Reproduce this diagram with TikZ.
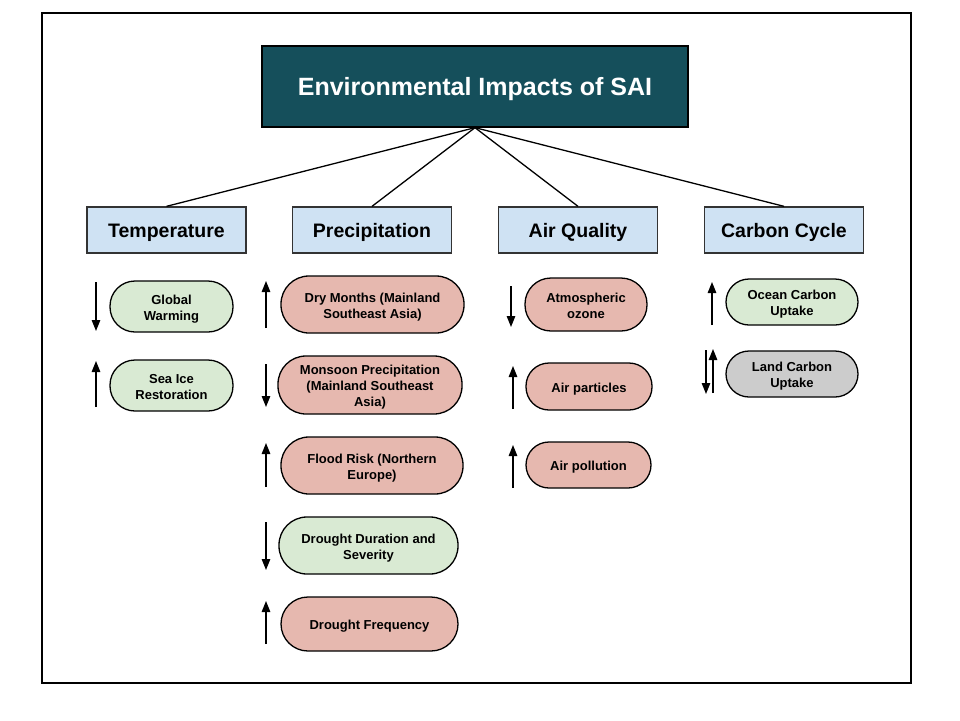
\documentclass[tikz,border=0pt]{standalone}
\usepackage{fontspec}
\setmainfont{Liberation Sans}
\usetikzlibrary{arrows.meta}
\definecolor{titlefill}{HTML}{154F5B}
\definecolor{catfill}{HTML}{CFE2F3}
\definecolor{goodfill}{HTML}{D9EAD3}
\definecolor{badfill}{HTML}{E6B8AF}
\definecolor{neutralfill}{HTML}{CCCCCC}
\begin{document}
\begin{tikzpicture}[x=1pt,y=-1pt,
  titlebox/.style={draw=black, fill=titlefill, line width=1.3pt, text=white,
    font=\bfseries\fontsize{25}{30}\selectfont, minimum width=426pt, minimum height=81pt, inner sep=0pt,
    text height=23pt, text depth=5pt},
  catbox/.style={draw=black!80, fill=catfill, line width=1.3pt,
    font=\bfseries\fontsize{19.5}{23}\selectfont, minimum width=159pt, minimum height=46pt, inner sep=0pt,
    text height=18pt, text depth=3pt},
  leaf/.style={draw=black, line width=1.3pt, align=center, inner sep=0pt,
    font=\bfseries\fontsize{13}{16}\selectfont, text depth=1pt},
  one/.style={text height=12pt},
  two/.style={text height=28pt},
  three/.style={text height=44pt},
  link/.style={line width=1.3pt},
  arr/.style={line width=1.3pt, -{Triangle[length=11pt,width=8.5pt]}}]
\useasboundingbox (0,0) rectangle (960,720);
\draw[line width=1.3pt] (42,13) rectangle (911,683);
\node[titlebox] (title) at (475,86.5) {Environmental Impacts of SAI};
\node[catbox] (temp) at (166.5,230) {Temperature};
\node[catbox] (prec) at (372,230) {Precipitation};
\node[catbox] (air) at (578,230) {Air Quality};
\node[catbox] (carb) at (784,230) {Carbon Cycle};
\foreach \c in {temp,prec,air,carb} \draw[link] (title.south) -- (\c.north);
% Temperature
\node[leaf, two, fill=goodfill, minimum width=123pt, minimum height=51pt, rounded corners=25pt] (gw) at (171.5,306.5) {Global\\Warming};
\node[leaf, two, fill=goodfill, minimum width=123pt, minimum height=51pt, rounded corners=25pt] (si) at (171.5,385.5) {Sea Ice\\Restoration};
% Precipitation
\node[leaf, two, fill=badfill, minimum width=183pt, minimum height=57pt, rounded corners=28pt] (dm) at (372.5,304.5) {Dry Months (Mainland\\Southeast Asia)};
\node[leaf, three, fill=badfill, minimum width=184pt, minimum height=58pt, rounded corners=28pt] (mp) at (370,385) {Monsoon Precipitation\\(Mainland Southeast\\Asia)};
\node[leaf, two, fill=badfill, minimum width=182pt, minimum height=57pt, rounded corners=28pt] (fr) at (372,465.5) {Flood Risk (Northern\\Europe)};
\node[leaf, two, fill=goodfill, minimum width=179pt, minimum height=57pt, rounded corners=28pt] (dd) at (368.5,545.5) {Drought Duration and\\Severity};
\node[leaf, one, fill=badfill, minimum width=177pt, minimum height=54pt, rounded corners=27pt] (df) at (369.5,624) {Drought Frequency};
% Air quality
\node[leaf, two, fill=badfill, minimum width=122pt, minimum height=53pt, rounded corners=26pt] (ao) at (586,304.5) {Atmospheric\\ozone};
\node[leaf, one, fill=badfill, minimum width=126pt, minimum height=47pt, rounded corners=23pt] (ap) at (589,386.5) {Air particles};
\node[leaf, one, fill=badfill, minimum width=125pt, minimum height=46pt, rounded corners=23pt] (apo) at (588.5,465) {Air pollution};
% Carbon cycle
\node[leaf, two, fill=goodfill, minimum width=132pt, minimum height=46pt, rounded corners=23pt] (oc) at (792,302) {Ocean Carbon\\Uptake};
\node[leaf, two, fill=neutralfill, minimum width=132pt, minimum height=46pt, rounded corners=23pt] (lc) at (792,374) {Land Carbon\\Uptake};
% indicator arrows
\draw[arr] (96,282) -- (96,331);
\draw[arr] (96,407) -- (96,361);
\draw[arr] (266,328) -- (266,281);
\draw[arr] (266,364) -- (266,407);
\draw[arr] (266,487) -- (266,443);
\draw[arr] (266,522) -- (266,570);
\draw[arr] (266,644) -- (266,601);
\draw[arr] (511,286) -- (511,327);
\draw[arr] (513,409) -- (513,366);
\draw[arr] (513,488) -- (513,445);
\draw[arr] (712,325) -- (712,282);
\draw[arr] (706,350) -- (706,394);
\draw[arr] (713,393) -- (713,349);
\end{tikzpicture}
\end{document}
